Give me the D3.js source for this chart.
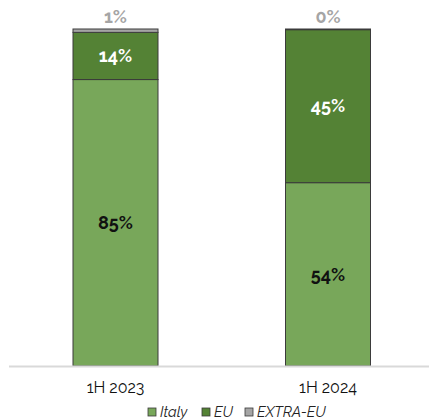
<!DOCTYPE html>
<html>
<head>
<meta charset="utf-8">
<script src="https://cdn.jsdelivr.net/npm/d3@7"></script>
<style>
  html, body { margin: 0; padding: 0; background: #fff; }
  svg { display: block; font-family: "Raleway", Lato, "Open Sans", sans-serif; }
</style>
</head>
<body>
<svg id="chart" width="430" height="420"></svg>
<script>
const categories = ["1H 2023", "1H 2024"];
const seriesNames = ["Italy", "EU", "EXTRA-EU"];
const italy = [85, 54.4];
const eu = [14, 45.4];
const extraEu = [1, 0.2];

const colors = { "Italy": "#78a75a", "EU": "#548235", "EXTRA-EU": "#a5a5a5" };
const labelColors = { "Italy": "#111", "EU": "#fff", "EXTRA-EU": "#a5a5a5" };

const rows = categories.map((c, i) => ({ cat: c, "Italy": italy[i], "EU": eu[i], "EXTRA-EU": extraEu[i] }));
const stacked = d3.stack().keys(seriesNames)(rows);

const svg = d3.select("#chart");
const x = d3.scaleBand().domain(categories).range([9.25, 434.25]).paddingInner(0.6).paddingOuter(0.3);
const y = d3.scaleLinear().domain([0, 100]).range([366, 29]);

// stacked segments
const layer = svg.selectAll("g.layer").data(stacked).join("g").attr("class", "layer")
  .attr("fill", d => colors[d.key]);
layer.selectAll("rect").data(d => d).join("rect")
  .attr("x", d => x(d.data.cat))
  .attr("width", x.bandwidth())
  .attr("y", d => y(d[1]))
  .attr("height", d => y(d[0]) - y(d[1]))
  .attr("stroke", "#3b3b3b")
  .attr("stroke-width", 1);

// baseline
svg.append("line").attr("x1", 9).attr("x2", 429).attr("y1", y(0) + 0.5).attr("y2", y(0) + 0.5)
  .attr("stroke", "#d9d9d9").attr("stroke-width", 2);

// value labels
stacked.forEach(s => {
  s.forEach(d => {
    const v = d.data[s.key];
    const isTop = s.key === "EXTRA-EU";
    const cy = isTop ? y(d[1]) - 12 : (y(d[0]) + y(d[1])) / 2;
    svg.append("text")
      .attr("x", x(d.data.cat) + x.bandwidth() / 2)
      .attr("y", cy)
      .attr("dy", "0.35em")
      .attr("text-anchor", "middle")
      .attr("font-weight", "bold")
      .attr("font-size", 18)
      .attr("fill", labelColors[s.key])
      .text(d3.format(".0f")(v) + "%");
  });
});

// category axis labels
const xAxis = d3.axisBottom(x).tickSize(0).tickPadding(16);
const ax = svg.append("g").attr("transform", `translate(0,${y(0)})`).call(xAxis);
ax.select(".domain").remove();
ax.selectAll("text").attr("font-size", 16).attr("fill", "#111")
  .attr("font-family", "Raleway, Lato, 'Open Sans', sans-serif");

// legend
const legendItems = [
  { key: "Italy", x: 148 },
  { key: "EU", x: 202 },
  { key: "EXTRA-EU", x: 245 }
];
const lg = svg.append("g").attr("transform", "translate(0,412)");
legendItems.forEach(it => {
  lg.append("rect").attr("x", it.x).attr("y", -4).attr("width", 8).attr("height", 8)
    .attr("fill", colors[it.key]).attr("stroke", "#3b3b3b").attr("stroke-width", 0.8);
  lg.append("text").attr("x", it.x + 12).attr("y", 0).attr("dy", "0.35em")
    .attr("font-size", 14.5).attr("font-style", "italic").attr("fill", "#222").text(it.key);
});
</script>
</body>
</html>
